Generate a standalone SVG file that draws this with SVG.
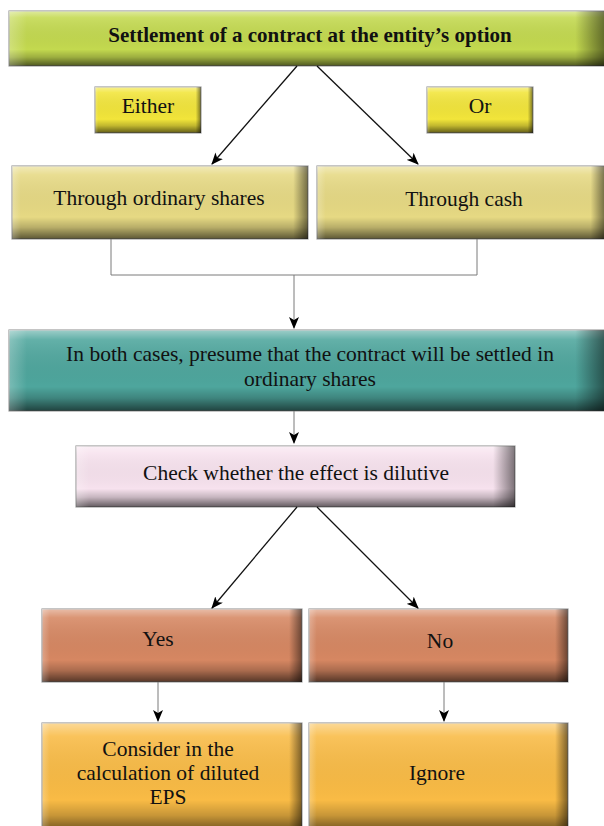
<svg xmlns="http://www.w3.org/2000/svg" width="604" height="826" viewBox="0 0 604 826">
<style>
text{font-family:"Liberation Serif","Times New Roman",serif;font-size:21.5px;fill:#111;text-anchor:middle}
.b{font-weight:bold;font-size:21px}
.frame{stroke:#a0a0a0;stroke-width:1.2}
.ov1{fill:url(#shV)}
.ov2{fill:url(#shH)}
.dline{stroke:#111;stroke-width:1.3;fill:none}
.gline{stroke:#7a7a7a;stroke-width:1;fill:none}
</style>
<defs>
<linearGradient id="shV" x1="0" y1="0" x2="0" y2="1">
<stop offset="0" stop-color="#fff" stop-opacity="0.45"/>
<stop offset="0.12" stop-color="#fff" stop-opacity="0.12"/>
<stop offset="0.7" stop-color="#000" stop-opacity="0"/>
<stop offset="0.84" stop-color="#000" stop-opacity="0.2"/>
<stop offset="1" stop-color="#000" stop-opacity="0.6"/>
</linearGradient>
<linearGradient id="shH" x1="0" y1="0" x2="1" y2="0">
<stop offset="0" stop-color="#fff" stop-opacity="0.25"/>
<stop offset="0.03" stop-color="#fff" stop-opacity="0"/>
<stop offset="0.95" stop-color="#000" stop-opacity="0"/>
<stop offset="1" stop-color="#000" stop-opacity="0.5"/>
</linearGradient>
<marker id="ah" viewBox="0 0 12 10" refX="11" refY="5" markerWidth="12" markerHeight="10" markerUnits="userSpaceOnUse" orient="auto">
<path d="M0,0 L12,5 L0,10 L3,5 z" fill="#000"/>
</marker>
</defs>

<g id="n-settlement">
<rect x="9" y="11" width="596" height="55" fill="#c3d94f" class="frame"/>
<rect x="9" y="11" width="596" height="55" class="ov1"/>
<rect x="9" y="11" width="596" height="55" class="ov2"/>
<text x="310" y="42" class="b">Settlement of a contract at the entity’s option</text>
</g>

<g id="n-either">
<rect x="95" y="87" width="106" height="46" fill="#f2e53a" class="frame"/>
<rect x="95" y="87" width="106" height="46" class="ov1"/>
<rect x="95" y="87" width="106" height="46" class="ov2"/>
<text x="148" y="113">Either</text>
</g>

<g id="n-or">
<rect x="427" y="87" width="106" height="46" fill="#f2e53a" class="frame"/>
<rect x="427" y="87" width="106" height="46" class="ov1"/>
<rect x="427" y="87" width="106" height="46" class="ov2"/>
<text x="480" y="113">Or</text>
</g>

<g id="n-shares">
<rect x="12" y="166" width="296" height="73" fill="#e6d983" class="frame"/>
<rect x="12" y="166" width="296" height="73" class="ov1"/>
<rect x="12" y="166" width="296" height="73" class="ov2"/>
<text x="159" y="205">Through ordinary shares</text>
</g>

<g id="n-cash">
<rect x="317" y="166" width="288" height="73" fill="#e6d983" class="frame"/>
<rect x="317" y="166" width="288" height="73" class="ov1"/>
<rect x="317" y="166" width="288" height="73" class="ov2"/>
<text x="464" y="206">Through cash</text>
</g>

<g id="n-presume">
<rect x="9" y="330" width="596" height="81" fill="#4ea69d" class="frame"/>
<rect x="9" y="330" width="596" height="81" class="ov1"/>
<rect x="9" y="330" width="596" height="81" class="ov2"/>
<text x="310" y="361">In both cases, presume that the contract will be settled in</text>
<text x="310" y="386">ordinary shares</text>
</g>

<g id="n-check">
<rect x="76" y="446" width="439" height="61" fill="#f7e2ee" class="frame"/>
<rect x="76" y="446" width="439" height="61" class="ov1"/>
<rect x="76" y="446" width="439" height="61" class="ov2"/>
<text x="296" y="480">Check whether the effect is dilutive</text>
</g>

<g id="n-yes">
<rect x="42" y="609" width="260" height="73" fill="#d68762" class="frame"/>
<rect x="42" y="609" width="260" height="73" class="ov1"/>
<rect x="42" y="609" width="260" height="73" class="ov2"/>
<text x="158" y="646">Yes</text>
</g>

<g id="n-no">
<rect x="309" y="609" width="259" height="73" fill="#d68762" class="frame"/>
<rect x="309" y="609" width="259" height="73" class="ov1"/>
<rect x="309" y="609" width="259" height="73" class="ov2"/>
<text x="440" y="648">No</text>
</g>

<g id="n-consider">
<rect x="42" y="723" width="260" height="110" fill="#f9bb45" class="frame"/>
<rect x="42" y="723" width="260" height="110" class="ov1"/>
<rect x="42" y="723" width="260" height="110" class="ov2"/>
<text x="168" y="756">Consider in the</text>
<text x="168" y="780">calculation of diluted</text>
<text x="168" y="804">EPS</text>
</g>

<g id="n-ignore">
<rect x="309" y="723" width="259" height="110" fill="#f9bb45" class="frame"/>
<rect x="309" y="723" width="259" height="110" class="ov1"/>
<rect x="309" y="723" width="259" height="110" class="ov2"/>
<text x="437" y="780">Ignore</text>
</g>

<g id="connectors">
<line x1="297" y1="66" x2="212" y2="164" class="dline" marker-end="url(#ah)"/>
<line x1="317" y1="66" x2="418" y2="164" class="dline" marker-end="url(#ah)"/>
<polyline points="111,239 111,275 477,275 477,239" class="gline"/>
<line x1="294" y1="275" x2="294" y2="328" class="gline" marker-end="url(#ah)"/>
<line x1="294" y1="411" x2="294" y2="443" class="gline" marker-end="url(#ah)"/>
<line x1="297" y1="507" x2="212" y2="608" class="dline" marker-end="url(#ah)"/>
<line x1="317" y1="507" x2="418" y2="608" class="dline" marker-end="url(#ah)"/>
<line x1="158" y1="682" x2="158" y2="721" class="gline" marker-end="url(#ah)"/>
<line x1="444" y1="682" x2="444" y2="721" class="gline" marker-end="url(#ah)"/>
</g>
</svg>
